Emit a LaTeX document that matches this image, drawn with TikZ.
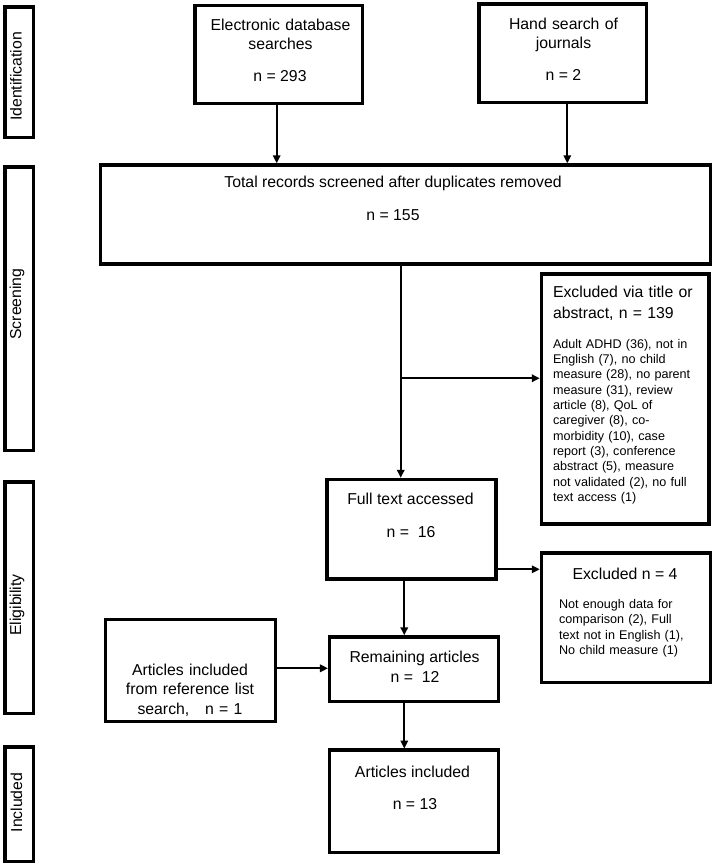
\documentclass[tikz,border=0pt]{standalone}
\usepackage{fontspec}
\setmainfont{Liberation Sans}
\usetikzlibrary{arrows.meta,calc}
\newcommand\mainsz{\fontsize{15.8}{19}\selectfont}
\newcommand\lstsz{\fontsize{12.6}{15.3}\selectfont}
\begin{document}
\begin{tikzpicture}[x=1pt,y=-1pt,
  box/.style={draw,line width=3.5pt,inner sep=0pt,outer sep=0pt,rectangle},
  txt/.style={inner sep=0pt,outer sep=0pt,font=\mainsz,anchor=base},
  blk/.style={txt,text width=#1,align=center},
  lst/.style={inner sep=0pt,outer sep=0pt,font=\lstsz,anchor=base west,text width=160pt,align=left},
  arr/.style={line width=1.8pt,-{Triangle[length=8pt,width=7.5pt]},shorten >=1.5pt},
  side/.style={txt,rotate=90}]
\useasboundingbox (0,0) rectangle (713,865);

% side stage labels
\node[box,minimum width=28.5pt,minimum height=130.5pt] (idbox) at (19,72) {};
\node[box,minimum width=28.5pt,minimum height=283.5pt] (scbox) at (19,308.5) {};
\node[box,minimum width=28.5pt,minimum height=231.5pt] (elbox) at (19,597.5) {};
\node[box,minimum width=28.5pt,minimum height=114.5pt] (inbox) at (19,804) {};
\node[side] (idtxt) at (21.5,76.5) {Identification};
\node[side] (sctxt) at (21,304) {Screening};
\node[side] (eltxt) at (21,605) {Eligibility};
\node[side] (intxt) at (22,802.5) {Included};

% main boxes
\node[box,minimum width=167.5pt,minimum height=98pt] (elec) at (278.5,54.25) {};
\node[box,minimum width=167.5pt,minimum height=98.5pt] (hand) at (562.5,53) {};
\node[box,minimum width=610pt,minimum height=99pt] (total) at (405.25,214.25) {};
\node[box,minimum width=167.5pt,minimum height=250pt] (excla) at (625,398.75) {};
\node[box,minimum width=169pt,minimum height=99.5pt] (full) at (411.25,529) {};
\node[box,minimum width=169pt,minimum height=129.5pt] (exclb) at (625.75,617.5) {};
\node[box,minimum width=168.8pt,minimum height=64.8pt] (remain) at (413.85,669.15) {};
\node[box,minimum width=170.3pt,minimum height=102.1pt] (refl) at (190.4,670.5) {};
\node[box,minimum width=168.8pt,minimum height=102.2pt] (incl) at (413.85,801.15) {};

% texts
\node[blk=170pt] (elect) at (280.5,30.5) {Electronic database\\searches};
\node[txt] (elecn) at (280,81.7) {n = 293};
\node[blk=170pt] (handt) at (563.5,29.3) {Hand search of\\journals};
\node[txt] (handn) at (563.5,80.7) {n = 2};
\node[txt] (totalt) at (393,187) {Total records screened after duplicates removed};
\node[txt] (totaln) at (393,220) {n = 155};
\node[txt,anchor=base west,text width=155pt,align=left,font=\fontsize{15.8}{21}\selectfont] (exclat) at (553,297.3) {Excluded via title or\\abstract, n = 139};
\node[lst] (exclal) at (553,348.3) {Adult ADHD (36), not in\\English (7), no child\\measure (28), no parent\\measure (31), review\\article (8), QoL of\\caregiver (8), co-\\morbidity (10), case\\report (3), conference\\abstract (5), measure\\not validated (2), no full\\text access (1)};
\node[txt] (fullt) at (410.5,504) {Full text accessed};
\node[txt] (fulln) at (411,537) {n =\ \ 16};
\node[txt] (exclbt) at (625,579) {Excluded n = 4};
\node[lst] (exclbl) at (559,608.5) {Not enough data for\\comparison (2), Full\\text not in English (1),\\No child measure (1)};
\node[txt] (remaint) at (414.5,662) {Remaining articles};
\node[txt] (remainn) at (415,682) {n =\ \ 12};
\node[blk=170pt,font=\fontsize{15.8}{19.5}\selectfont] (reflt) at (190,675) {Articles included\\from reference list\\search,\ \ \ n = 1};
\node[txt] (inclt) at (412.5,777) {Articles included};
\node[txt] (incln) at (415,809) {n = 13};

% connectors
\coordinate (a1) at ($(elec.south)+(-1.8,0)$);
\draw[arr] (a1) -- (a1 |- total.north);
\coordinate (a2) at ($(hand.south)+(4.8,0)$);
\draw[arr] (a2) -- (a2 |- total.north);
\coordinate (a3) at ($(total.south)+(-4.5,0)$);
\draw[arr] (a3) -- (a3 |- full.north);
\coordinate (j1) at ($(a3)+(0,114.5)$);
\draw[arr] (j1) -- (j1 -| excla.west);
\coordinate (a4) at ($(full.east)+(0,40.3)$);
\draw[arr] (a4) -- (a4 -| exclb.west);
\coordinate (a5) at ($(full.south)+(-7,0)$);
\draw[arr] (a5) -- (a5 |- remain.north);
\coordinate (a6) at ($(refl.east)+(0,-2.2)$);
\draw[arr] (a6) -- (a6 -| remain.west);
\coordinate (a7) at ($(remain.south)+(-9.55,0)$);
\draw[arr] (a7) -- (a7 |- incl.north);
\end{tikzpicture}
\end{document}
